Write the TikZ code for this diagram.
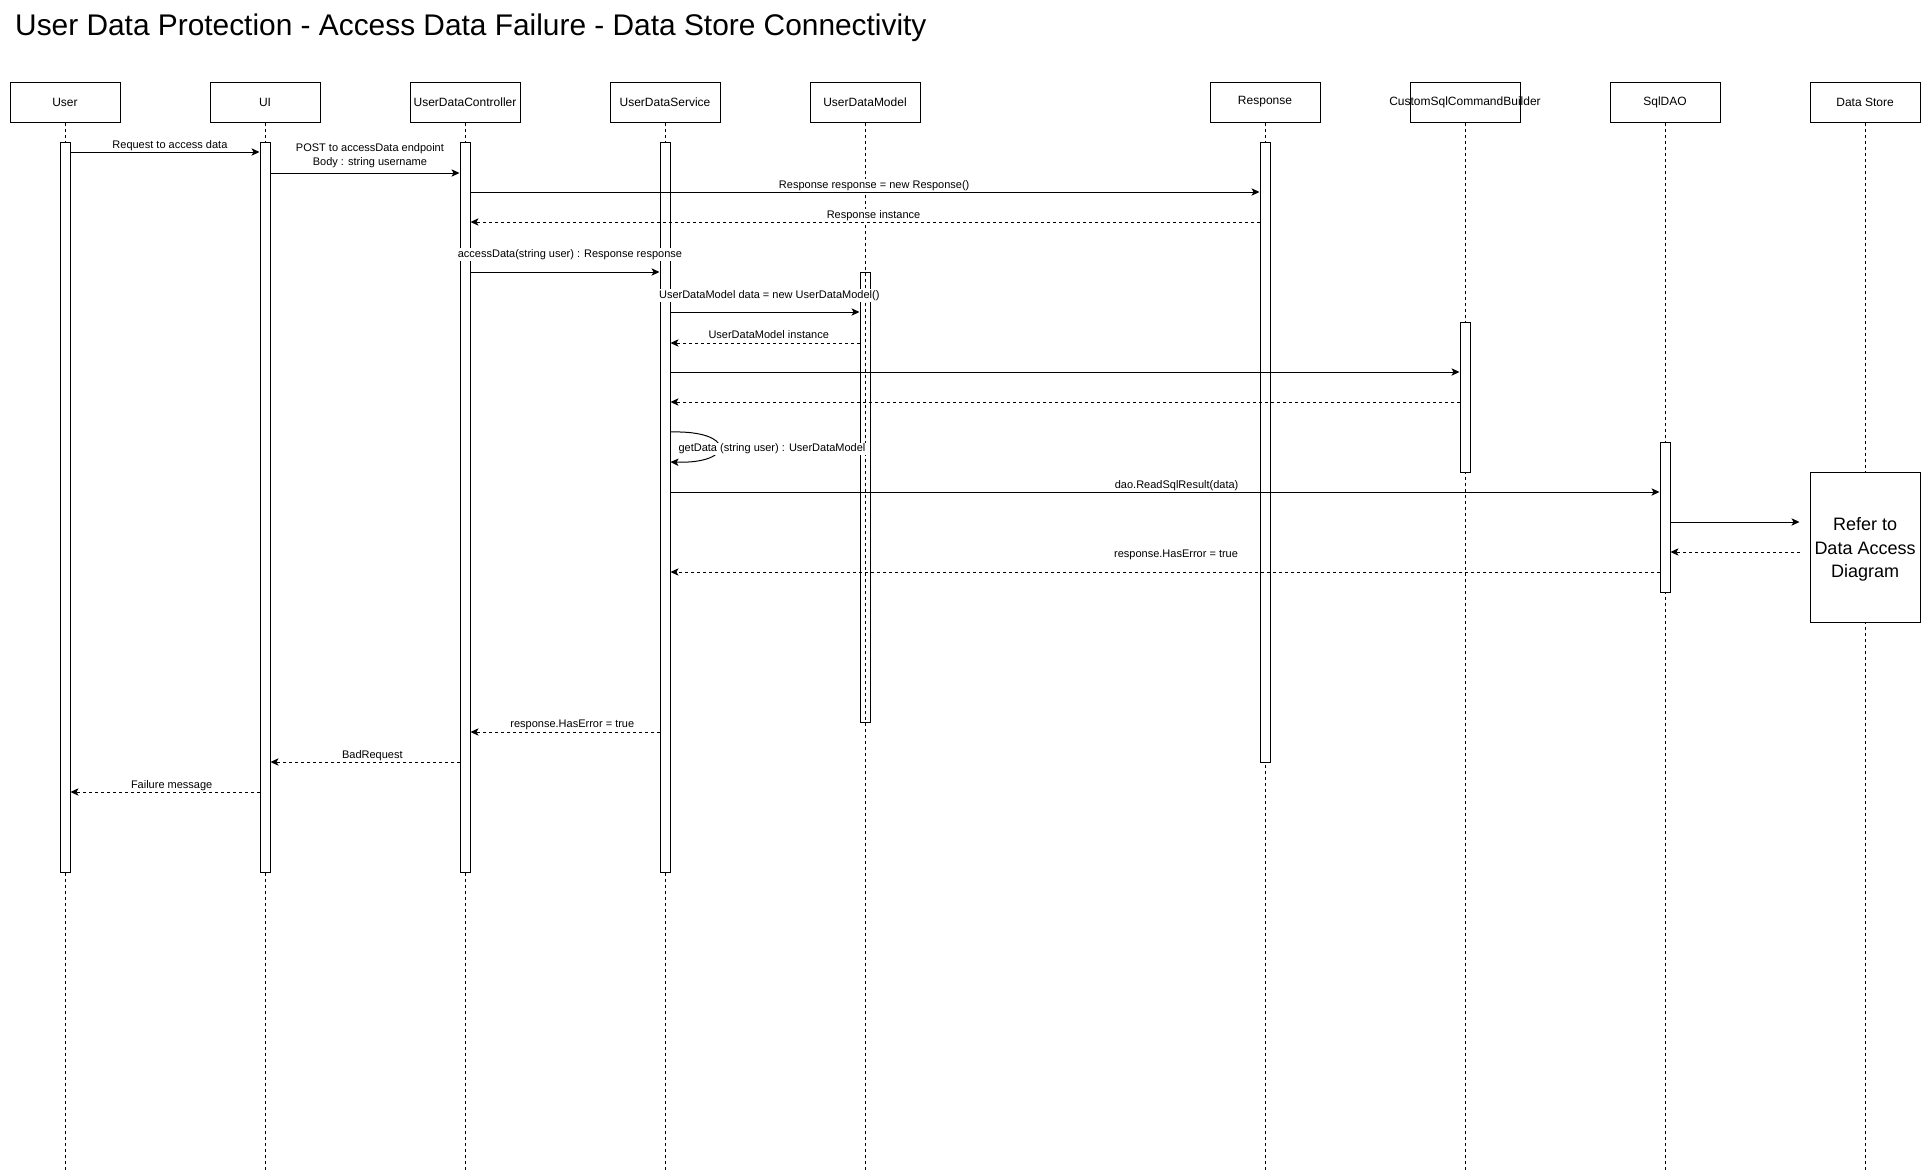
\documentclass[tikz,border=0pt]{standalone}
\usepackage{fontspec}
\setmainfont{Liberation Sans}
\usepackage{tikz}
\usetikzlibrary{arrows.meta}
\usetikzlibrary{positioning}

\begin{document}
\begin{tikzpicture}[
  x=0.75pt,y=-0.75pt,
  head/.style={draw,line width=0.75pt,minimum width=82.5pt,minimum height=30pt,inner sep=0pt,font=\fontsize{9pt}{11pt}\selectfont},
  life/.style={line width=0.75pt,dash pattern=on 2.25pt off 2.25pt},
  act/.style={draw,fill=white,line width=0.75pt,minimum width=7.5pt,inner sep=0pt},
  msg/.style={line width=0.75pt,-{Stealth[length=6pt,width=5.5pt,inset=1.5pt]}},
  ret/.style={msg,dash pattern=on 2.25pt off 2.25pt},
  lbl/.style={fill=white,inner sep=1pt,font=\fontsize{8.25pt}{10.5pt}\selectfont}]
\path[use as bounding box,fill=white] (0,0) rectangle (1921,1175);
\node[anchor=base west,font=\fontsize{22.4pt}{27pt}\selectfont] (title) at (10.5,35)
  {User Data Protection - Access Data Failure - Data Store Connectivity};

\node[head] (user) at (65,102) {User};
\node[head] (ui) at (265,102) {UI};
\node[head] (ctrl) at (465,102) {UserDataController};
\node[head] (svc) at (665,102) {UserDataService};
\node[head] (model) at (865,102) {UserDataModel};
\node[head] (resp) at (1265,102) {Response};
\node[head] (builder) at (1465,102) {\makebox[0pt]{CustomSqlCommandBuilder}};
\node[head] (dao) at (1665,102) {SqlDAO};
\node[head] (store) at (1865,102) {Data Store};

\coordinate (userEnd) at (65,1170);
\coordinate (uiEnd) at (265,1170);
\coordinate (ctrlEnd) at (465,1170);
\coordinate (svcEnd) at (665,1170);
\coordinate (modelEnd) at (865,1170);
\coordinate (respEnd) at (1265,1170);
\coordinate (builderEnd) at (1465,1170);
\coordinate (daoEnd) at (1665,1170);
\coordinate (storeEnd) at (1865,1170);
\draw[life] (user) -- (userEnd);
\draw[life] (ui) -- (uiEnd);
\draw[life] (ctrl) -- (ctrlEnd);
\draw[life] (svc) -- (svcEnd);
\draw[life] (model) -- (modelEnd);
\draw[life] (resp) -- (respEnd);
\draw[life] (builder) -- (builderEnd);
\draw[life] (dao) -- (daoEnd);
\draw[life] (store) -- (storeEnd);

\node[act,minimum height=547.5pt] (aUser) at (65,507) {};
\node[act,minimum height=547.5pt] (aUI) at (265,507) {};
\node[act,minimum height=547.5pt] (aCtrl) at (465,507) {};
\node[act,minimum height=547.5pt] (aSvc) at (665,507) {};
\node[act,fill=none,minimum height=337.5pt] (aModel) at (865,497) {};
\node[act,minimum height=465pt] (aResp) at (1265,452) {};
\node[act,minimum height=112.5pt] (aBuilder) at (1465,397) {};
\node[act,minimum height=112.5pt] (aDao) at (1665,517) {};
\node[draw,fill=white,line width=0.75pt,minimum width=82.5pt,minimum height=112.5pt] (refer) at (1865,547) {};
\node[align=center,inner sep=0pt,font=\fontsize{13.5pt}{17.5pt}\selectfont] (referText) at ([yshift=-1.9pt]refer.center)
  {Refer to\\Data Access\\Diagram};
\coordinate (referIn) at ([xshift=-7.5pt]refer.west);

\draw[msg] (aUser.east |- 0,152) -- node[lbl,xshift=3.7pt,yshift=5pt]{Request to access data} (aUI.west |- 0,152);
\draw[msg] (aUI.east |- 0,173) -- node[lbl,align=center,xshift=3.7pt,yshift=13.2pt]{POST to accessData endpoint\\Body : string username} (aCtrl.west |- 0,173);
\draw[msg] (aCtrl.east |- 0,192) -- node[lbl,xshift=6.9pt,yshift=5pt]{Response response = new Response()} (aResp.west |- 0,192);
\draw[ret] (aResp.west |- 0,222) -- node[lbl,xshift=6.4pt,yshift=5pt]{Response instance} (aCtrl.east |- 0,222);
\draw[msg] (aCtrl.east |- 0,272) -- node[lbl,xshift=3.7pt,yshift=13pt]{accessData(string user) : Response response} (aSvc.west |- 0,272);
\draw[msg] (aSvc.east |- 0,312) -- node[lbl,xshift=3.2pt,yshift=12.5pt]{UserDataModel data = new UserDataModel()} (aModel.west |- 0,312);
\draw[ret] (aModel.west |- 0,343) -- node[lbl,xshift=2.8pt,yshift=6pt]{UserDataModel instance} (aSvc.east |- 0,343);
\draw[msg] (aSvc.east |- 0,372) -- (aBuilder.west |- 0,372);
\draw[ret] (aBuilder.west |- 0,402) -- (aSvc.east |- 0,402);
\draw[msg] (aSvc.east |- 0,432) .. controls +(65,-2) and +(65,2) .. (aSvc.east |- 0,462);
\node[lbl,inner sep=0.5pt] (getdata) at (772,449) {getData (string user) : UserDataModel};
\draw[msg] (aSvc.east |- 0,492) -- node[lbl,xshift=8.7pt,yshift=5pt]{dao.ReadSqlResult(data)} (aDao.west |- 0,492);
\draw[msg] (aDao.east |- 0,522) -- (referIn |- 0,522);
\draw[ret] (referIn |- 0,552) -- (aDao.east |- 0,552);
\draw[ret] (aDao.west |- 0,572) -- node[lbl,xshift=8.3pt,yshift=12.5pt]{response.HasError = true} (aSvc.east |- 0,572);
\draw[ret] (aSvc.west |- 0,732) -- node[lbl,xshift=5.5pt,yshift=5pt]{response.HasError = true} (aCtrl.east |- 0,732);
\draw[ret] (aCtrl.west |- 0,762) -- node[lbl,xshift=5.5pt,yshift=5pt]{BadRequest} (aUI.east |- 0,762);
\draw[ret] (aUI.west |- 0,792) -- node[lbl,xshift=5pt,yshift=5pt]{Failure message} (aUser.east |- 0,792);
\end{tikzpicture}
\end{document}
